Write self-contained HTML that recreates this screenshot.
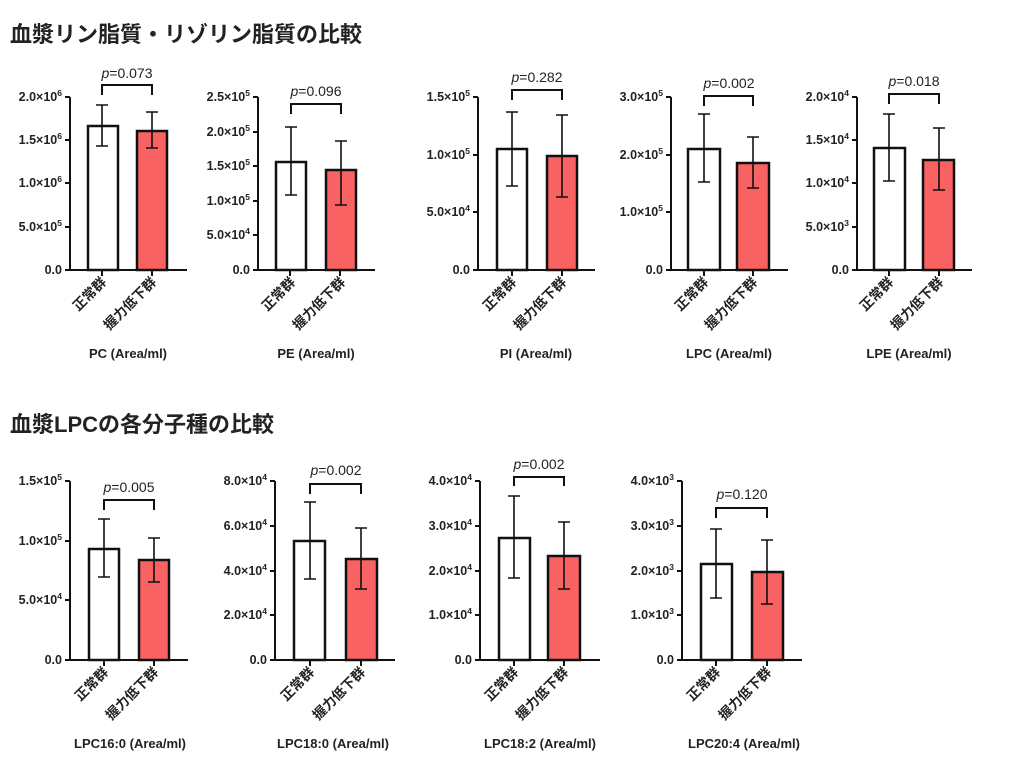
<!DOCTYPE html>
<html><head><meta charset="utf-8"><style>
html,body{margin:0;padding:0;background:#fff;width:1024px;height:768px;overflow:hidden}
svg{display:block}
text{font-family:"Liberation Sans","Noto Sans CJK JP",sans-serif}
.t{font-size:12.5px;font-weight:bold;fill:#222}
.s{font-size:8.5px}
.ax{stroke:#111;stroke-width:2;fill:none}
.bw{fill:#fff;stroke:#111;stroke-width:2.5}
.br{fill:#f96262;stroke:#111;stroke-width:2.5}
.e{stroke:#111;stroke-width:1.6;fill:none}
.p{font-size:14px;fill:#222}
.c{font-size:13.5px;font-weight:bold;fill:#222}
.ti{font-size:13px;font-weight:bold;fill:#222}
.h{font-size:22px;font-weight:bold;fill:#222}
</style></head><body>
<svg width="1024" height="768" viewBox="0 0 1024 768" xmlns="http://www.w3.org/2000/svg">
<text class="h" x="10" y="42">血漿リン脂質・リゾリン脂質の比較</text>
<text class="h" x="10" y="432">血漿LPCの各分子種の比較</text>

<!-- Chart 1 PC -->
<g transform="translate(70,0)">
<path class="ax" d="M0,97V270H117M-5,97H0M-5,140H0M-5,183H0M-5,227H0M-5,270H0M32,270V276M82,270V276"/>
<text class="t" x="-8" y="101" text-anchor="end">2.0×10<tspan class="s" dy="-5">6</tspan></text>
<text class="t" x="-8" y="144" text-anchor="end">1.5×10<tspan class="s" dy="-5">6</tspan></text>
<text class="t" x="-8" y="187" text-anchor="end">1.0×10<tspan class="s" dy="-5">6</tspan></text>
<text class="t" x="-8" y="231" text-anchor="end">5.0×10<tspan class="s" dy="-5">5</tspan></text>
<text class="t" x="-8" y="274" text-anchor="end">0.0</text>
<rect class="bw" x="18" y="126" width="30" height="144"/>
<rect class="br" x="67" y="131" width="30" height="139"/>
<path class="e" d="M32,105V146M26,105H38M26,146H38M82,112V148M76,112H88M76,148H88"/>
<path class="e" style="stroke-width:2" d="M32,95V85H82V95"/>
<text class="p" x="57" y="78" text-anchor="middle"><tspan font-style="italic">p</tspan>=0.073</text>
<text class="c" transform="translate(37,283) rotate(-45)" text-anchor="end">正常群</text>
<text class="c" transform="translate(87,283) rotate(-45)" text-anchor="end">握力低下群</text>
<text class="ti" x="58" y="358" text-anchor="middle">PC (Area/ml)</text>
</g>

<!-- Chart 2 PE -->
<g transform="translate(258,0)">
<path class="ax" d="M0,97V270H117M-5,97H0M-5,132H0M-5,166H0M-5,201H0M-5,235H0M-5,270H0M32,270V276M82,270V276"/>
<text class="t" x="-8" y="101" text-anchor="end">2.5×10<tspan class="s" dy="-5">5</tspan></text>
<text class="t" x="-8" y="136" text-anchor="end">2.0×10<tspan class="s" dy="-5">5</tspan></text>
<text class="t" x="-8" y="170" text-anchor="end">1.5×10<tspan class="s" dy="-5">5</tspan></text>
<text class="t" x="-8" y="205" text-anchor="end">1.0×10<tspan class="s" dy="-5">5</tspan></text>
<text class="t" x="-8" y="239" text-anchor="end">5.0×10<tspan class="s" dy="-5">4</tspan></text>
<text class="t" x="-8" y="274" text-anchor="end">0.0</text>
<rect class="bw" x="18" y="162" width="30" height="108"/>
<rect class="br" x="68" y="170" width="30" height="100"/>
<path class="e" d="M33,127V195M27,127H39M27,195H39M83,141V205M77,141H89M77,205H89"/>
<path class="e" style="stroke-width:2" d="M33,114V104H83V114"/>
<text class="p" x="58" y="96" text-anchor="middle"><tspan font-style="italic">p</tspan>=0.096</text>
<text class="c" transform="translate(38,283) rotate(-45)" text-anchor="end">正常群</text>
<text class="c" transform="translate(88,283) rotate(-45)" text-anchor="end">握力低下群</text>
<text class="ti" x="58" y="358" text-anchor="middle">PE (Area/ml)</text>
</g>

<!-- Chart 3 PI -->
<g transform="translate(478,0)">
<path class="ax" d="M0,97V270H117M-5,97H0M-5,155H0M-5,212H0M-5,270H0M34,270V276M84,270V276"/>
<text class="t" x="-8" y="101" text-anchor="end">1.5×10<tspan class="s" dy="-5">5</tspan></text>
<text class="t" x="-8" y="159" text-anchor="end">1.0×10<tspan class="s" dy="-5">5</tspan></text>
<text class="t" x="-8" y="216" text-anchor="end">5.0×10<tspan class="s" dy="-5">4</tspan></text>
<text class="t" x="-8" y="274" text-anchor="end">0.0</text>
<rect class="bw" x="19" y="149" width="30" height="121"/>
<rect class="br" x="69" y="156" width="30" height="114"/>
<path class="e" d="M34,112V186M28,112H40M28,186H40M84,115V197M78,115H90M78,197H90"/>
<path class="e" style="stroke-width:2" d="M34,100V90H84V100"/>
<text class="p" x="59" y="82" text-anchor="middle"><tspan font-style="italic">p</tspan>=0.282</text>
<text class="c" transform="translate(39,283) rotate(-45)" text-anchor="end">正常群</text>
<text class="c" transform="translate(89,283) rotate(-45)" text-anchor="end">握力低下群</text>
<text class="ti" x="58" y="358" text-anchor="middle">PI (Area/ml)</text>
</g>

<!-- Chart 4 LPC -->
<g transform="translate(671,0)">
<path class="ax" d="M0,97V270H117M-5,97H0M-5,155H0M-5,212H0M-5,270H0M33,270V276M82,270V276"/>
<text class="t" x="-8" y="101" text-anchor="end">3.0×10<tspan class="s" dy="-5">5</tspan></text>
<text class="t" x="-8" y="159" text-anchor="end">2.0×10<tspan class="s" dy="-5">5</tspan></text>
<text class="t" x="-8" y="216" text-anchor="end">1.0×10<tspan class="s" dy="-5">5</tspan></text>
<text class="t" x="-8" y="274" text-anchor="end">0.0</text>
<rect class="bw" x="17" y="149" width="32" height="121"/>
<rect class="br" x="66" y="163" width="32" height="107"/>
<path class="e" d="M33,114V182M27,114H39M27,182H39M82,137V188M76,137H88M76,188H88"/>
<path class="e" style="stroke-width:2" d="M33,106V96H82V106"/>
<text class="p" x="58" y="88" text-anchor="middle"><tspan font-style="italic">p</tspan>=0.002</text>
<text class="c" transform="translate(38,283) rotate(-45)" text-anchor="end">正常群</text>
<text class="c" transform="translate(87,283) rotate(-45)" text-anchor="end">握力低下群</text>
<text class="ti" x="58" y="358" text-anchor="middle">LPC (Area/ml)</text>
</g>

<!-- Chart 5 LPE -->
<g transform="translate(857,0)">
<path class="ax" d="M0,97V270H115M-5,97H0M-5,140H0M-5,183H0M-5,227H0M-5,270H0M32,270V276M82,270V276"/>
<text class="t" x="-8" y="101" text-anchor="end">2.0×10<tspan class="s" dy="-5">4</tspan></text>
<text class="t" x="-8" y="144" text-anchor="end">1.5×10<tspan class="s" dy="-5">4</tspan></text>
<text class="t" x="-8" y="187" text-anchor="end">1.0×10<tspan class="s" dy="-5">4</tspan></text>
<text class="t" x="-8" y="231" text-anchor="end">5.0×10<tspan class="s" dy="-5">3</tspan></text>
<text class="t" x="-8" y="274" text-anchor="end">0.0</text>
<rect class="bw" x="17" y="148" width="31" height="122"/>
<rect class="br" x="66" y="160" width="31" height="110"/>
<path class="e" d="M32,114V181M26,114H38M26,181H38M82,128V190M76,128H88M76,190H88"/>
<path class="e" style="stroke-width:2" d="M32,104V94H82V104"/>
<text class="p" x="57" y="86" text-anchor="middle"><tspan font-style="italic">p</tspan>=0.018</text>
<text class="c" transform="translate(37,283) rotate(-45)" text-anchor="end">正常群</text>
<text class="c" transform="translate(87,283) rotate(-45)" text-anchor="end">握力低下群</text>
<text class="ti" x="52" y="358" text-anchor="middle">LPE (Area/ml)</text>
</g>

<!-- Chart 6 LPC16:0 -->
<g transform="translate(70,0)">
<path class="ax" d="M0,481V660H118M-5,481H0M-5,541H0M-5,600H0M-5,660H0M34,660V666M84,660V666"/>
<text class="t" x="-8" y="485" text-anchor="end">1.5×10<tspan class="s" dy="-5">5</tspan></text>
<text class="t" x="-8" y="545" text-anchor="end">1.0×10<tspan class="s" dy="-5">5</tspan></text>
<text class="t" x="-8" y="604" text-anchor="end">5.0×10<tspan class="s" dy="-5">4</tspan></text>
<text class="t" x="-8" y="664" text-anchor="end">0.0</text>
<rect class="bw" x="19" y="549" width="30" height="111"/>
<rect class="br" x="69" y="560" width="30" height="100"/>
<path class="e" d="M34,519V577M28,519H40M28,577H40M84,538V582M78,538H90M78,582H90"/>
<path class="e" style="stroke-width:2" d="M34,510V500H84V510"/>
<text class="p" x="59" y="492" text-anchor="middle"><tspan font-style="italic">p</tspan>=0.005</text>
<text class="c" transform="translate(39,673) rotate(-45)" text-anchor="end">正常群</text>
<text class="c" transform="translate(89,673) rotate(-45)" text-anchor="end">握力低下群</text>
<text class="ti" x="60" y="748" text-anchor="middle">LPC16:0 (Area/ml)</text>
</g>

<!-- Chart 7 LPC18:0 -->
<g transform="translate(275,0)">
<path class="ax" d="M0,481V660H120M-5,481H0M-5,526H0M-5,571H0M-5,615H0M-5,660H0M35,660V666M86,660V666"/>
<text class="t" x="-8" y="485" text-anchor="end">8.0×10<tspan class="s" dy="-5">4</tspan></text>
<text class="t" x="-8" y="530" text-anchor="end">6.0×10<tspan class="s" dy="-5">4</tspan></text>
<text class="t" x="-8" y="575" text-anchor="end">4.0×10<tspan class="s" dy="-5">4</tspan></text>
<text class="t" x="-8" y="619" text-anchor="end">2.0×10<tspan class="s" dy="-5">4</tspan></text>
<text class="t" x="-8" y="664" text-anchor="end">0.0</text>
<rect class="bw" x="19" y="541" width="31" height="119"/>
<rect class="br" x="71" y="559" width="31" height="101"/>
<path class="e" d="M35,502V579M29,502H41M29,579H41M86,528V589M80,528H92M80,589H92"/>
<path class="e" style="stroke-width:2" d="M35,494V484H86V494"/>
<text class="p" x="61" y="475" text-anchor="middle"><tspan font-style="italic">p</tspan>=0.002</text>
<text class="c" transform="translate(40,673) rotate(-45)" text-anchor="end">正常群</text>
<text class="c" transform="translate(91,673) rotate(-45)" text-anchor="end">握力低下群</text>
<text class="ti" x="58" y="748" text-anchor="middle">LPC18:0 (Area/ml)</text>
</g>

<!-- Chart 8 LPC18:2 -->
<g transform="translate(480,0)">
<path class="ax" d="M0,481V660H120M-5,481H0M-5,526H0M-5,571H0M-5,615H0M-5,660H0M34,660V666M84,660V666"/>
<text class="t" x="-8" y="485" text-anchor="end">4.0×10<tspan class="s" dy="-5">4</tspan></text>
<text class="t" x="-8" y="530" text-anchor="end">3.0×10<tspan class="s" dy="-5">4</tspan></text>
<text class="t" x="-8" y="575" text-anchor="end">2.0×10<tspan class="s" dy="-5">4</tspan></text>
<text class="t" x="-8" y="619" text-anchor="end">1.0×10<tspan class="s" dy="-5">4</tspan></text>
<text class="t" x="-8" y="664" text-anchor="end">0.0</text>
<rect class="bw" x="19" y="538" width="31" height="122"/>
<rect class="br" x="68" y="556" width="32" height="104"/>
<path class="e" d="M34,496V578M28,496H40M28,578H40M84,522V589M78,522H90M78,589H90"/>
<path class="e" style="stroke-width:2" d="M34,486V477H84V486"/>
<text class="p" x="59" y="469" text-anchor="middle"><tspan font-style="italic">p</tspan>=0.002</text>
<text class="c" transform="translate(39,673) rotate(-45)" text-anchor="end">正常群</text>
<text class="c" transform="translate(89,673) rotate(-45)" text-anchor="end">握力低下群</text>
<text class="ti" x="60" y="748" text-anchor="middle">LPC18:2 (Area/ml)</text>
</g>

<!-- Chart 9 LPC20:4 -->
<g transform="translate(682,0)">
<path class="ax" d="M0,481V660H120M-5,481H0M-5,526H0M-5,571H0M-5,615H0M-5,660H0M34,660V666M85,660V666"/>
<text class="t" x="-8" y="485" text-anchor="end">4.0×10<tspan class="s" dy="-5">3</tspan></text>
<text class="t" x="-8" y="530" text-anchor="end">3.0×10<tspan class="s" dy="-5">3</tspan></text>
<text class="t" x="-8" y="575" text-anchor="end">2.0×10<tspan class="s" dy="-5">3</tspan></text>
<text class="t" x="-8" y="619" text-anchor="end">1.0×10<tspan class="s" dy="-5">3</tspan></text>
<text class="t" x="-8" y="664" text-anchor="end">0.0</text>
<rect class="bw" x="19" y="564" width="31" height="96"/>
<rect class="br" x="70" y="572" width="31" height="88"/>
<path class="e" d="M34,529V598M28,529H40M28,598H40M85,540V604M79,540H91M79,604H91"/>
<path class="e" style="stroke-width:2" d="M34,518V508H85V518"/>
<text class="p" x="60" y="499" text-anchor="middle"><tspan font-style="italic">p</tspan>=0.120</text>
<text class="c" transform="translate(39,673) rotate(-45)" text-anchor="end">正常群</text>
<text class="c" transform="translate(90,673) rotate(-45)" text-anchor="end">握力低下群</text>
<text class="ti" x="62" y="748" text-anchor="middle">LPC20:4 (Area/ml)</text>
</g>
</svg>
</body></html>
